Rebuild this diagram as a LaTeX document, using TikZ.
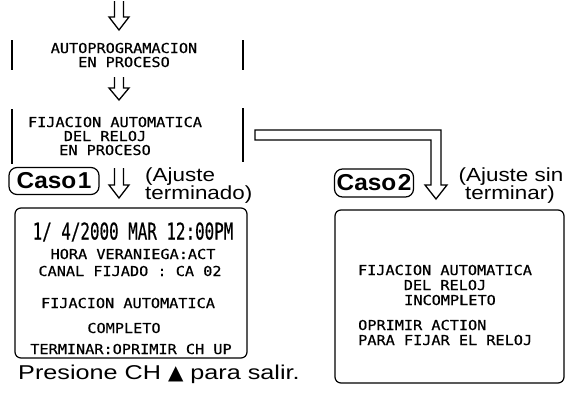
\documentclass[tikz,border=0pt]{standalone}
\usepackage{fontspec}
\setmainfont{Liberation Sans}
\newfontfamily\lcdfont{DejaVu Sans Mono}[FakeStretch=1.11,FakeBold=0.5]
\newfontfamily\bigfont{DejaVu Sans Mono}[FakeStretch=0.69,FakeBold=0.4]
\newfontfamily\lblfont{Liberation Sans}[FakeStretch=1.18]
\newfontfamily\footfont{Liberation Sans}[FakeStretch=1.26]
\newfontfamily\tagfont{Liberation Sans}[FakeStretch=1.06]
\newfontfamily\symfont{DejaVu Sans}
\begin{document}
\begin{tikzpicture}[x=1pt,y=-1pt,
  lcd/.style={font={\lcdfont\fontsize{13.7pt}{14pt}\selectfont}, inner sep=0pt, anchor=base},
  lcdleft/.style={lcd, anchor=base west},
  bigdate/.style={font={\bigfont\fontsize{23pt}{24pt}\selectfont}, inner sep=0pt, anchor=base},
  remark/.style={font={\lblfont\fontsize{19pt}{15pt}\selectfont}, inner sep=0pt},
  casetag/.style={draw, line width=1.2pt, rounded corners=8pt, inner sep=0pt,
    font={\tagfont\bfseries\fontsize{23pt}{23pt}\selectfont}},
  casebox/.style={draw, line width=1.2pt, rounded corners=6pt, inner sep=0pt},
  sideline/.style={line width=1.2pt},
  blockarrow/.style={line width=1.3pt, line join=miter},
]
\fill[white] (0,0) rectangle (574,405);
\useasboundingbox (0,0) rectangle (574,405);

% ---- box A: autoprogramacion
\node[lcd] (tA1) at (124,53) {AUTOPROGRAMACION};
\node[lcd] (tA2) at (124,67) {EN PROCESO};
\coordinate (aTL) at (12,40); \coordinate (aBL) at (12,70);
\coordinate (aTR) at (243,40); \coordinate (aBR) at (243,70);
\draw[sideline] (aTL) -- (aBL);
\draw[sideline] (aTR) -- (aBR);

% ---- box B: fijacion en proceso
\node[lcd] (tB1) at (115,127) {FIJACION AUTOMATICA};
\node[lcd] (tB2) at (105,141) {DEL RELOJ};
\node[lcd] (tB3) at (105,155) {EN PROCESO};
\coordinate (bTL) at (12,109); \coordinate (bBL) at (12,164);
\coordinate (bTR) at (243,108); \coordinate (bBR) at (243,162);
\draw[sideline] (bTL) -- (bBL);
\draw[sideline] (bTR) -- (bBR);

% ---- hollow down arrows
\coordinate (a1) at (119,1);
\draw[blockarrow] ([xshift=-4.5pt]a1) -- ++(0,16) -- ++(-5.5,0) -- ++(10,13) -- ++(10,-13) -- ++(-5.5,0) -- ++(0,-16);
\coordinate (a2) at (119,77);
\draw[blockarrow] ([xshift=-4.5pt]a2) -- ++(0,11) -- ++(-5.5,0) -- ++(10,12) -- ++(10,-12) -- ++(-5.5,0) -- ++(0,-11);
\coordinate (a3) at (119,168);
\draw[blockarrow] ([xshift=-4.5pt]a3) -- ++(0,17) -- ++(-5.5,0) -- ++(10,13) -- ++(10,-13) -- ++(-5.5,0) -- ++(0,-17);

% ---- elbow arrow to case 2
\coordinate (e0) at (255,130);
\draw[blockarrow] (e0) -- (441,130) -- (441,185) -- (447,185) -- (436,199) -- (425,185) -- (431,185) -- (431,140) -- (255,140) -- cycle;

% ---- case tags and remarks
\node[casetag, minimum width=90pt, minimum height=27pt] (k1) at (54,181) {Caso\kern1.5pt1};
\node[remark, anchor=base west] (r1a) at (145,181) {(Ajuste};
\node[remark, anchor=base west] (r1b) at (145,199) {terminado)};
\node[casetag, minimum width=79pt, minimum height=28pt] (k2) at (374,183) {Caso\kern1.5pt2};
\node[remark, anchor=base] (r2a) at (511,181) {(Ajuste sin};
\node[remark, anchor=base] (r2b) at (510,199) {terminar)};

% ---- case 1 display
\node[casebox, minimum width=232pt, minimum height=150pt] (c1) at (131,283) {};
\node[bigdate] (d1) at (133,239.5) {1/ 4/2000 MAR 12:00PM};
\node[lcd] (h1) at (133,259) {HORA VERANIEGA:ACT};
\node[lcd] (h2) at (130,276) {CANAL FIJADO : CA 02};
\node[lcd] (h3) at (128,308) {FIJACION AUTOMATICA};
\node[lcd] (h4) at (124,333) {COMPLETO};
\node[lcd] (h5) at (131,354) {TERMINAR:OPRIMIR CH UP};

% ---- case 2 display
\node[casebox, minimum width=229pt, minimum height=173pt] (c2) at (449.5,296.5) {};
\node[lcd] (g1) at (445,275) {FIJACION AUTOMATICA};
\node[lcd] (g2) at (445,290) {DEL RELOJ};
\node[lcd] (g3) at (450,305) {INCOMPLETO};
\node[lcdleft] (g4) at (358,330) {OPRIMIR ACTION};
\node[lcdleft] (g5) at (358,345) {PARA FIJAR EL RELOJ};

% ---- footer
\node[font={\footfont\fontsize{20pt}{22pt}\selectfont}, inner sep=0pt, anchor=base west] (ft) at (18,379)
  {Presione CH {\symfont\fontsize{20pt}{20pt}\selectfont ▲} para salir.};
\end{tikzpicture}
\end{document}
